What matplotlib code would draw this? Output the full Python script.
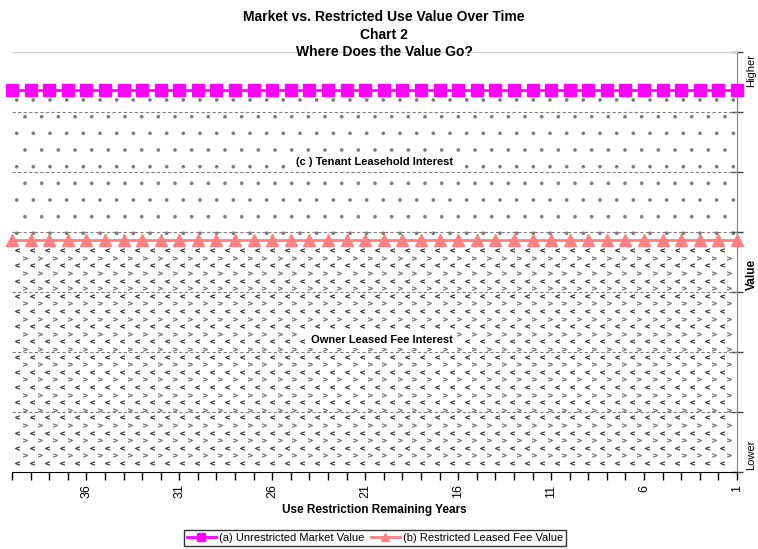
import matplotlib
matplotlib.use("Agg")
import matplotlib.pyplot as plt
import numpy as np
from matplotlib.ticker import FixedLocator, FuncFormatter

plt.rcParams['font.family'] = ['Liberation Sans', 'DejaVu Sans']
plt.rcParams['hatch.linewidth'] = 0.2

# ---- data ----
years = list(range(40, 0, -1))                 # remaining years 40 .. 1
market_value = [6.37] * len(years)             # (a) Unrestricted Market Value
leased_fee_value = [3.87] * len(years)         # (b) Restricted Leased Fee Value
labeled_years = [36, 31, 26, 21, 16, 11, 6, 1]

title = "Market vs. Restricted Use Value Over Time\nChart 2\nWhere Does the Value Go?"
xlabel = "Use Restriction Remaining Years"
series_names = ["(a) Unrestricted Market Value", "(b) Restricted Leased Fee Value"]
area_labels = ["(c ) Tenant Leasehold Interest", "Owner Leased Fee Interest"]

W, H = 758, 549
fig = plt.figure(figsize=(W / 100, H / 100), dpi=100)
ax = fig.add_axes([12 / W, 1 - 472 / H, (737 - 12) / W, (472 - 52) / H])

x = np.array(years)
mv = np.array(market_value)
lf = np.array(leased_fee_value)

ax.set_xlim(40, 1)
ax.set_ylim(0, 7)

# stacked areas
ax.fill_between(x, 0, lf, facecolor='white', edgecolor='none', linewidth=0, zorder=1)
ax.fill_between(x, lf, mv, facecolor='white', edgecolor='#7a7a7a', hatch='.', linewidth=0, zorder=1)

# chevron texture for the lower (owner) area
fig.canvas.draw()
inv = ax.transData.inverted()
p0 = ax.transData.transform((x.max(), 0))
p1 = ax.transData.transform((x.min(), lf.min()))
pix_x0, pix_x1 = p0[0] + 5, p1[0] - 2
pix_y0, pix_y1 = p0[1] + 9, p1[1] - 6
row = 0
for py in np.arange(pix_y0, pix_y1, 7.6):
    off = 0 if row % 2 == 0 else 7.5
    xs = np.arange(pix_x0 + off, pix_x1, 15.0)
    pts = inv.transform(np.column_stack([xs, np.full_like(xs, py)]))
    if row % 2 == 0:
        ax.scatter(pts[:, 0], pts[:, 1], marker=r'$<$', s=10, color='#404040',
                   edgecolors='#404040', linewidths=0.4, zorder=2)
    else:
        ax.scatter(pts[:, 0], pts[:, 1], marker=r'$>$', s=10, color='#7a7a7a',
                   edgecolors='#7a7a7a', linewidths=0.4, zorder=2)
    row += 1

# gridlines
for yv in range(1, 7):
    ax.axhline(yv, color='#808080', lw=0.8, ls=(0, (3, 2)), zorder=3)

l1, = ax.plot(x, mv, color='#FF00FF', lw=2, marker='s', markersize=9,
              markerfacecolor='#FF00FF', markeredgecolor='#FF00FF', zorder=5, clip_on=False)
l2, = ax.plot(x, lf, color='#FF8080', lw=2, marker='^', markersize=9,
              markerfacecolor='#FF8080', markeredgecolor='#FF8080', zorder=5, clip_on=False)

# spines
ax.spines['left'].set_visible(False)
ax.spines['top'].set_color('#d0d0d0')
ax.spines['right'].set_color('#808080')
ax.spines['bottom'].set_color('black')

# x ticks
ax.xaxis.set_major_locator(FixedLocator(years))
ax.xaxis.set_major_formatter(FuncFormatter(lambda v, p: str(int(round(v))) if int(round(v)) in labeled_years else ""))
ax.tick_params(axis='x', direction='out', length=6, width=1, color='black',
               labelsize=9, labelrotation=90, pad=3)

# y ticks on right
ax.yaxis.tick_right()
ax.yaxis.set_major_locator(FixedLocator(range(0, 8)))
ax.tick_params(axis='y', direction='inout', length=8, width=1, color='#404040', labelright=False)

ax.set_xlabel(xlabel, fontsize=8.5, fontweight='bold', labelpad=4)

# right-side labels
xr = 1.0 + 9 / 725
ax.text(xr, 0.955, "Higher", transform=ax.transAxes, rotation=90,
        ha='left', va='center', fontsize=8)
ax.text(xr, 0.04, "Lower", transform=ax.transAxes, rotation=90,
        ha='left', va='center', fontsize=8)
ax.text(xr, 0.47, "Value", transform=ax.transAxes, rotation=90,
        ha='left', va='center', fontsize=8.5, fontweight='bold')

# area labels
ax.text(0.50, (472 - 162) / 420, area_labels[0], transform=ax.transAxes, ha='center', va='center',
        fontsize=8, fontweight='bold', zorder=6,
        bbox=dict(facecolor='white', edgecolor='none', pad=1.5))
ax.text(0.51, (472 - 340) / 420, area_labels[1], transform=ax.transAxes, ha='center', va='center',
        fontsize=8, fontweight='bold', zorder=6,
        bbox=dict(facecolor='white', edgecolor='none', pad=2.5))

fig.suptitle(title, fontsize=10, fontweight='bold', x=384 / W, y=1 - 10 / H, va='top', linespacing=1.32)

leg = fig.legend([l1, l2], series_names, loc='center', bbox_to_anchor=(375 / W, 1 - 538 / H),
                 ncol=2, fontsize=8, frameon=True, fancybox=False, edgecolor='black',
                 markerscale=0.7, handlelength=2.6, handletextpad=0.3, columnspacing=0.6,
                 borderpad=0.25, borderaxespad=0)
leg.get_frame().set_linewidth(1.0)

fig.savefig("out.png", dpi=100)
